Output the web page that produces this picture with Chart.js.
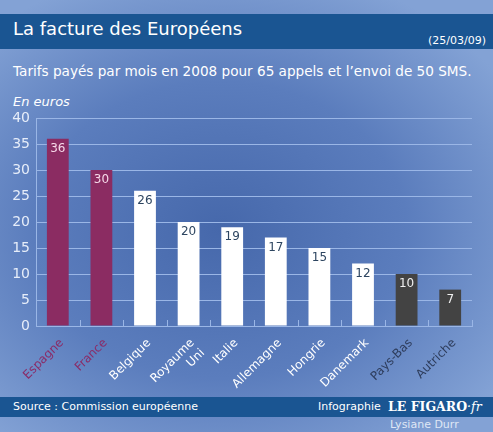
<!DOCTYPE html>
<html>
<head>
<meta charset="utf-8">
<script src="https://cdn.jsdelivr.net/npm/chart.js@4.4.0/dist/chart.umd.min.js"></script>
<style>
html, body { margin: 0; padding: 0; }
body {
    width: 493px; height: 432px; overflow: hidden; position: relative;
    font-family: "DejaVu Sans", sans-serif; color: #fff;
    background: radial-gradient(ellipse 340px 270px at 220px 230px, #4668ab 0%, #5b7dbd 55%, #83a2d5 100%);
}
.band { position: absolute; left: 0; width: 493px; background: #1a5592; }
.txt { position: absolute; white-space: nowrap; }
#chart { position: absolute; left: 0; top: 0; }
</style>
</head>
<body>
<div class="band" style="top:14px;height:35px"></div>
<div class="txt" style="left:13px;top:18px;font-size:18px">La facture des Européens</div>
<div class="txt" style="right:7px;top:34px;font-size:11px">(25/03/09)</div>
<div class="txt" style="left:13px;top:63px;font-size:13.6px">Tarifs payés par mois en 2008 pour 65 appels et l’envoi de 50 SMS.</div>
<div class="txt" style="left:13px;top:94px;font-size:13px;font-style:italic">En euros</div>

<div class="band" style="top:397px;height:20px"></div>
<div class="txt" style="left:13px;top:400px;font-size:11px">Source : Commission européenne</div>
<div class="txt" style="left:318px;top:400px;font-size:11px">Infographie</div>
<div class="txt" style="left:388px;top:399px;font-size:12.5px;font-weight:bold;font-family:'DejaVu Serif',serif">LE FIGARO<span style="font-weight:normal;font-style:italic">·fr</span></div>
<div class="txt" style="left:390px;top:418px;font-size:11px;color:#dfe7f5">Lysiane Durr</div>

<canvas id="chart" width="493" height="432"></canvas>
<script>
const categories = ["Espagne", "France", "Belgique", ["Royaume", "Uni"], "Italie", "Allemagne", "Hongrie", "Danemark", "Pays-Bas", "Autriche"];
const tarifs = [36, 30, 26, 20, 19, 17, 15, 12, 10, 7];
const groupe = [0, 0, 1, 1, 1, 1, 1, 1, 2, 2];   // 0 = Espagne/France, 1 = autres, 2 = moins chers
const yTicks = [0, 5, 10, 15, 20, 25, 30, 35, 40];

// couleurs par groupe
const barColors = ['#8b2c62', '#ffffff', '#434343'];
const valueColors = ['#f6d8e8', '#2d4560', '#f0f0f0'];
const labelColors = ['#8a2c68', '#ffffff', '#2e3d5c'];
const gridColor = '#9ab6e6';

const valueLabels = {
    id: 'valueLabels',
    afterDatasetsDraw(chart) {
        const ctx = chart.ctx;
        const meta = chart.getDatasetMeta(0);
        ctx.save();
        ctx.font = '12px "DejaVu Sans"';
        ctx.textAlign = 'center';
        ctx.textBaseline = 'middle';
        meta.data.forEach(function (bar, i) {
            ctx.fillStyle = valueColors[groupe[i]];
            ctx.fillText(tarifs[i], bar.x, bar.y + 10);
        });
        // petits traits verticaux entre les catégories
        const x = chart.scales.x;
        const bottom = chart.chartArea.bottom;
        ctx.strokeStyle = gridColor;
        ctx.lineWidth = 1;
        ctx.beginPath();
        for (let i = 0; i <= categories.length; i++) {
            const px = Math.round(x.getPixelForValue(i - 0.5)) + 0.5;
            ctx.moveTo(px, bottom);
            ctx.lineTo(px, bottom - 6);
        }
        ctx.stroke();
        ctx.restore();
    }
};

new Chart(document.getElementById('chart'), {
    type: 'bar',
    data: {
        labels: categories,
        datasets: [{
            data: tarifs,
            backgroundColor: groupe.map(g => barColors[g]),
            borderWidth: 0,
            categoryPercentage: 1,
            barPercentage: 0.5
        }]
    },
    options: {
        responsive: false,
        animation: false,
        events: [],
        layout: { padding: { top: 118, right: 21, bottom: 30, left: 0 } },
        plugins: { legend: { display: false }, tooltip: { enabled: false } },
        scales: {
            x: {
                grid: { display: false },
                border: { display: true, color: gridColor },
                ticks: {
                    autoSkip: false,
                    minRotation: 45, maxRotation: 45, padding: 2, labelOffset: 4,
                    font: { size: 12, family: 'DejaVu Sans' },
                    color: ctx => labelColors[groupe[ctx.index]]
                },
                afterFit(scale) { scale.height = 76; }
            },
            y: {
                min: 0, max: 40,
                afterBuildTicks(scale) { scale.ticks = yTicks.map(v => ({ value: v })); },
                grid: { color: gridColor, drawTicks: false },
                border: { display: true, color: gridColor },
                ticks: {
                    padding: 6,
                    font: { size: 14, family: 'DejaVu Sans' },
                    color: '#e6edf9'
                },
                afterFit(scale) { scale.width = 36; }
            }
        }
    },
    plugins: [valueLabels]
});
</script>
</body>
</html>
